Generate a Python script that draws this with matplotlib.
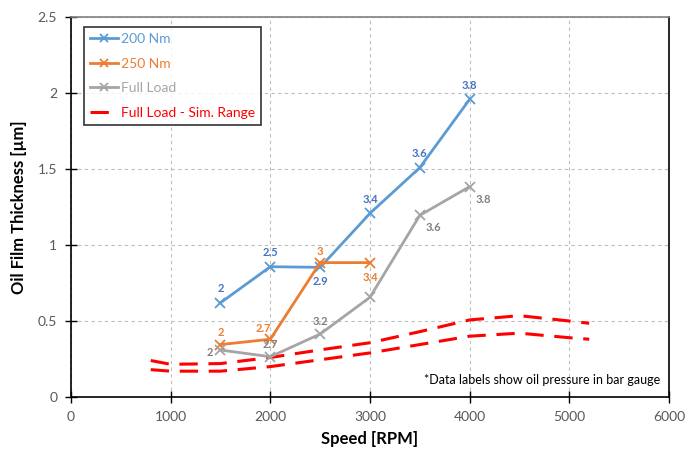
import matplotlib
matplotlib.use("Agg")
import matplotlib.pyplot as plt
from matplotlib.lines import Line2D

plt.rcParams['font.family'] = ['Lato', 'DejaVu Sans']

speed_200 = [1500, 2000, 2500, 3000, 3500, 4000]
film_200 = [0.62, 0.857, 0.853, 1.208, 1.509, 1.958]
press_200 = ['2', '2.5', '2.9', '3.4', '3.6', '3.8']

speed_250 = [1500, 2000, 2500, 3000]
film_250 = [0.345, 0.38, 0.884, 0.884]
press_250 = ['2', '2.7', '3', '3.4']

speed_full = [1500, 2000, 2500, 3000, 3500, 4000]
film_full = [0.309, 0.265, 0.414, 0.656, 1.195, 1.384]
press_full = ['2', '2.7', '3.2', '', '3.6', '3.8']

sim_speed = [800, 1000, 1500, 2000, 2500, 3000, 3500, 4000, 4500, 5000, 5200]
sim_upper = [0.24, 0.215, 0.22, 0.26, 0.31, 0.357, 0.43, 0.507, 0.535, 0.50, 0.485]
sim_lower = [0.18, 0.17, 0.17, 0.20, 0.245, 0.29, 0.345, 0.40, 0.42, 0.39, 0.38]

c_blue, c_orange, c_gray, c_red = '#5B9BD5', '#ED7D31', '#A5A5A5', '#FF0000'
l_blue, l_orange, l_gray = '#4472C4', '#ED7D31', '#808080'

fig = plt.figure(figsize=(6.99, 4.53), dpi=100)
ax = fig.add_axes([0.1016, 0.1236, 0.8554, 0.839])

ax.plot(sim_speed, sim_upper, color=c_red, lw=2.2, dashes=(6, 3.5), zorder=2)
ax.plot(sim_speed, sim_lower, color=c_red, lw=2.2, dashes=(6, 3.5), zorder=2)
ax.plot(speed_200, film_200, color=c_blue, lw=2, marker='x', ms=7, mew=1.3, zorder=3)
ax.plot(speed_250, film_250, color=c_orange, lw=2, marker='x', ms=7, mew=1.3, zorder=3)
ax.plot(speed_full, film_full, color=c_gray, lw=2, marker='x', ms=7, mew=1.3, zorder=3)

def lab(x, y, t, col, dx, dy, ha='center'):
    if t:
        ax.annotate(t, (x, y), xytext=(dx, dy), textcoords='offset points',
                    ha=ha, va='center', color=col, fontsize=8, fontweight='bold')

off_200 = [(0, 10), (0, 10), (0, -10), (0, 10), (0, 10), (0, 10)]
for x, y, t, o in zip(speed_200, film_200, press_200, off_200):
    lab(x, y, t, l_blue, *o)
off_250 = [(0, 9), (-5, 8), (0, 8), (0, -11)]
for x, y, t, o in zip(speed_250, film_250, press_250, off_250):
    lab(x, y, t, l_orange, *o)
off_full = [(-8, -2), (0, 9), (0, 9), (0, 0), (10, -9), (10, -9)]
for x, y, t, o in zip(speed_full, film_full, press_full, off_full):
    lab(x, y, t, l_gray, *o)

ax.set_xlim(0, 6000)
ax.set_ylim(0, 2.5)
ax.set_xticks(range(0, 6001, 1000))
ax.set_yticks([0, 0.5, 1, 1.5, 2, 2.5])
ax.set_yticklabels(['0', '0.5', '1', '1.5', '2', '2.5'])
ax.grid(True, color='#BFBFBF', ls=(0, (3, 3)), lw=0.8)
ax.set_axisbelow(True)
ax.tick_params(direction='inout', length=8, width=1, color='black',
               labelcolor='#595959', labelsize=10)
ax.tick_params(axis='x', pad=6)
ax.tick_params(axis='y', pad=6)
for s in ax.spines.values():
    s.set_color('black')
    s.set_linewidth(1.2)
ax.spines['top'].set_color('#808080')

ax.set_xlabel('Speed [RPM]', fontsize=12, fontweight='bold', labelpad=6)
ax.set_ylabel('Oil Film Thickness [µm]', fontsize=12, fontweight='bold', labelpad=8)

ax.text(0.985, 0.045, '*Data labels show oil pressure in bar gauge', transform=ax.transAxes,
        ha='right', va='center', fontsize=9, color='black')

handles = [
    Line2D([], [], color=c_blue, lw=2, marker='x', ms=6, mew=1.3),
    Line2D([], [], color=c_orange, lw=2, marker='x', ms=6, mew=1.3),
    Line2D([], [], color=c_gray, lw=2, marker='x', ms=6, mew=1.3),
    Line2D([], [], color=c_red, lw=2.2, dashes=(6, 3.5)),
]
leg = ax.legend(handles, ['200 Nm', '250 Nm', 'Full Load', 'Full Load - Sim. Range'],
                loc='upper left', bbox_to_anchor=(0.022, 0.974), fontsize=10,
                frameon=True, fancybox=False, handlelength=2.0, handletextpad=0.2,
                labelspacing=0.9, borderpad=0.45, borderaxespad=0)
leg.get_frame().set_edgecolor('black')
leg.get_frame().set_linewidth(1.2)
for t, c in zip(leg.get_texts(), [c_blue, c_orange, c_gray, c_red]):
    t.set_color(c)

fig.savefig('out.png', dpi=100)
